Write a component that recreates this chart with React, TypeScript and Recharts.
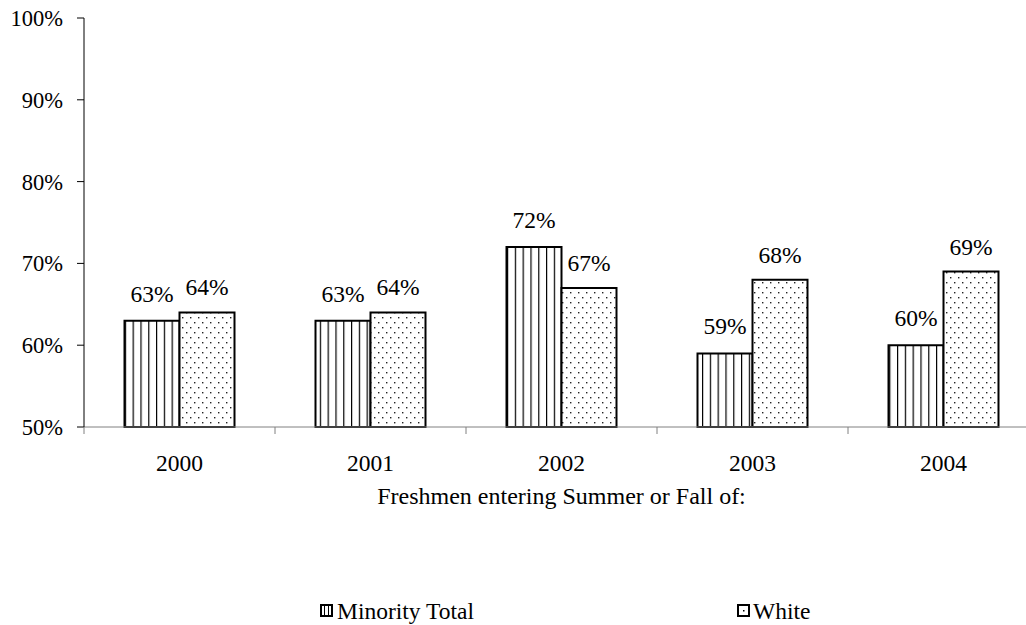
import React from 'react';
import { BarChart, Bar, XAxis, YAxis, LabelList, Legend, Label } from 'recharts';

const years = ['2000', '2001', '2002', '2003', '2004'];
const minorityTotal = [63, 63, 72, 59, 60];
const white = [64, 64, 67, 68, 69];
const yTicks = [50, 60, 70, 80, 90, 100];

const chartData = years.map((year, i) => ({
  year,
  minority: minorityTotal[i],
  white: white[i],
}));

const FONT = "'Liberation Serif', 'DejaVu Serif', serif";
const FONT_SIZE = 23.5;

const CHART_W = 1044;
const CHART_H = 625;
const MARGIN = { top: 18, right: 5, left: 0, bottom: 98 };
const Y_AXIS_W = 84;
const X_AXIS_H = 100;
const PLOT_W = CHART_W - MARGIN.left - MARGIN.right - Y_AXIS_W;
const AXIS_Y = CHART_H - MARGIN.bottom - X_AXIS_H;
const BAND = PLOT_W / years.length;

// category ticks sit on the band boundaries, like Excel
const XTick = (props: any) => {
  const { x, payload } = props;
  const bx = x - BAND / 2;
  return (
    <g>
      <line x1={bx} x2={bx} y1={AXIS_Y} y2={AXIS_Y + 7} stroke="#808080" strokeWidth={1} />
      <text x={x} y={AXIS_Y + 44} textAnchor="middle" style={{ fontFamily: FONT, fontSize: FONT_SIZE }} fill="#000">
        {payload.value}
      </text>
    </g>
  );
};

const StripeIcon = () => (
  <svg width={13} height={13} style={{ display: 'block' }}>
    <rect x={1} y={1} width={11} height={11} fill="#fff" stroke="#000" strokeWidth={2} />
    <line x1={4.5} x2={4.5} y1={1} y2={12} stroke="#000" strokeWidth={1} />
    <line x1={8.5} x2={8.5} y1={1} y2={12} stroke="#000" strokeWidth={1} />
  </svg>
);

const DotIcon = () => (
  <svg width={13} height={13} style={{ display: 'block' }}>
    <rect x={1} y={1} width={11} height={11} fill="#fff" stroke="#000" strokeWidth={2} />
    <rect x={6} y={6} width={1.5} height={1.5} fill="#000" />
  </svg>
);

const renderLegend = () => (
  <div style={{ position: 'relative', width: CHART_W, height: 26, fontFamily: FONT, fontSize: FONT_SIZE, lineHeight: '26px', color: '#000' }}>
    <div style={{ position: 'absolute', left: 320, top: 6 }}><StripeIcon /></div>
    <span style={{ position: 'absolute', left: 337, top: 0, whiteSpace: 'nowrap' }}>Minority Total</span>
    <div style={{ position: 'absolute', left: 737, top: 6 }}><DotIcon /></div>
    <span style={{ position: 'absolute', left: 753, top: 0, whiteSpace: 'nowrap' }}>White</span>
  </div>
);

const App: React.FC = () => {
  return (
    <div style={{ position: 'absolute', left: 0, top: 0, width: 1026, height: 625, overflow: 'hidden', background: '#fff', fontFamily: FONT }}>
      <BarChart
        width={CHART_W}
        height={CHART_H}
        data={chartData}
        margin={MARGIN}
        barCategoryGap={40.5}
        barGap={0}
        style={{ fontFamily: FONT }}
      >
        <defs>
          <pattern id="stripes" patternUnits="userSpaceOnUse" width={7.8} height={10}>
            <rect width={7.8} height={10} fill="#fff" />
            <rect x={0} y={0} width={1.2} height={10} fill="#000" />
          </pattern>
          <pattern id="dots" patternUnits="userSpaceOnUse" width={8} height={10}>
            <rect width={8} height={10} fill="#fff" />
            <rect x={2} y={2} width={1.4} height={1.4} fill="#222" />
            <rect x={6} y={7} width={1.4} height={1.4} fill="#222" />
          </pattern>
        </defs>
        <XAxis
          dataKey="year"
          height={X_AXIS_H}
          axisLine={{ stroke: '#808080' }}
          tickLine={false}
          tick={<XTick />}
          interval={0}
        >
          <Label
            value="Freshmen entering Summer or Fall of:"
            position="insideBottom"
            offset={23}
            style={{ fontFamily: FONT, fontSize: 24, fill: '#000' }}
          />
        </XAxis>
        <YAxis
          width={Y_AXIS_W}
          domain={[50, 100]}
          ticks={yTicks}
          interval={0}
          tickFormatter={(v) => `${v}%`}
          axisLine={{ stroke: '#000' }}
          tickLine={{ stroke: '#000' }}
          tickSize={7}
          tickMargin={14}
          tick={{ fontFamily: FONT, fontSize: 22.5, fill: '#000' }}
        />
        <Legend
          layout="horizontal"
          verticalAlign="middle"
          align="center"
          content={renderLegend}
          wrapperStyle={{ top: 598, left: 0, width: CHART_W, height: 26 }}
        />
        <Bar dataKey="minority" name="Minority Total" fill="url(#stripes)" stroke="#000" strokeWidth={2} isAnimationActive={false}>
          <LabelList
            dataKey="minority"
            position="top"
            offset={19}
            formatter={(v: any) => `${v}%`}
            style={{ fontFamily: FONT, fontSize: FONT_SIZE, fill: '#000' }}
          />
        </Bar>
        <Bar dataKey="white" name="White" fill="url(#dots)" stroke="#000" strokeWidth={2} isAnimationActive={false}>
          <LabelList
            dataKey="white"
            position="top"
            offset={17}
            formatter={(v: any) => `${v}%`}
            style={{ fontFamily: FONT, fontSize: FONT_SIZE, fill: '#000' }}
          />
        </Bar>
      </BarChart>
    </div>
  );
};

export default App;
